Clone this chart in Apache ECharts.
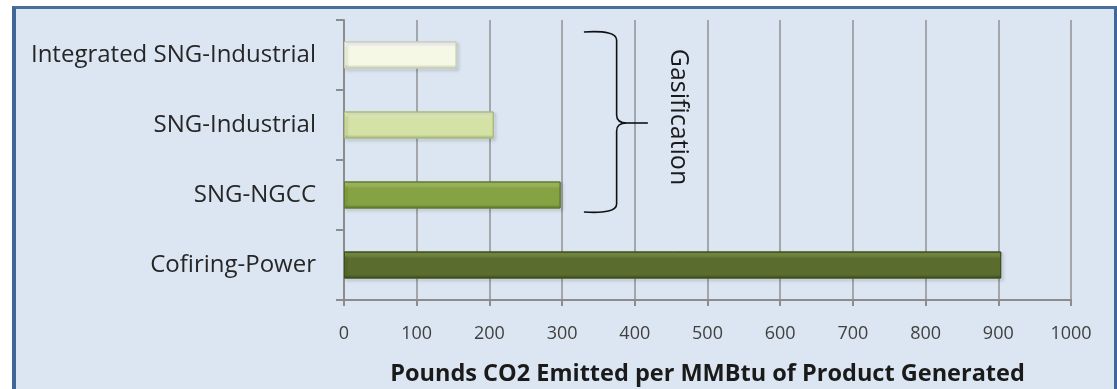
<!DOCTYPE html>
<html>
<head>
<meta charset="utf-8">
<script src="https://cdn.jsdelivr.net/npm/echarts@6/dist/echarts.min.js"></script>
<style>
  html, body { margin: 0; padding: 0; background: #ffffff; }
  #wrap { position: relative; width: 1117px; height: 389px; overflow: hidden; }
  #frame {
    position: absolute; left: 12px; top: 6px; width: 1098px; height: 400px;
    background: #dce6f2;
    border-left: 4px solid #3f6797; border-top: 3px solid #4a6f9c; border-right: 3px solid #3f6797;
  }
  #chart { position: absolute; left: 0; top: 0; width: 1117px; height: 389px; }
</style>
</head>
<body>
<div id="wrap">
  <div id="frame"></div>
  <div id="chart"></div>
</div>
<script>
// Emissions by process route (lbs CO2 per MMBtu of product)
const categories = ['Cofiring-Power', 'SNG-NGCC', 'SNG-Industrial', 'Integrated SNG-Industrial'];
const emissions = [904, 298, 206, 155];
const xTicks = [0, 100, 200, 300, 400, 500, 600, 700, 800, 900, 1000];
const axisTitle = 'Pounds CO2 Emitted per MMBtu of Product Generated';
const groupLabel = 'Gasification';
const groupMembers = ['SNG-NGCC', 'SNG-Industrial', 'Integrated SNG-Industrial'];

// bevelled bar fills: [highlight, body, shade]
const barShades = {
  'Cofiring-Power': ['#7d9146', '#5a6d2f', '#3f4d1f'],
  'SNG-NGCC': ['#a9c266', '#86a343', '#5f7a2b'],
  'SNG-Industrial': ['#e9f1c9', '#d5e2a5', '#a9b97a'],
  'Integrated SNG-Industrial': ['#ffffff', '#f5f8e4', '#c9ceb6']
};

const FONT = '"Open Sans", Lato, sans-serif';

function bevel(c) {
  return {
    type: 'linear', x: 0, y: 0, x2: 0, y2: 1,
    colorStops: [
      { offset: 0, color: c[0] },
      { offset: 0.12, color: c[0] },
      { offset: 0.25, color: c[1] },
      { offset: 0.85, color: c[1] },
      { offset: 1, color: c[2] }
    ]
  };
}

const chart = echarts.init(document.getElementById('chart'), null, { renderer: 'canvas' });

const option = {
  backgroundColor: 'transparent',
  animation: false,
  grid: { left: 344, right: 46, top: 20, bottom: 89, containLabel: false, outerBoundsMode: 'none' },
  xAxis: {
    type: 'value', min: xTicks[0], max: xTicks[xTicks.length - 1], interval: xTicks[1] - xTicks[0],
    name: axisTitle, nameLocation: 'middle', nameGap: 62,
    nameTextStyle: { fontFamily: FONT, fontWeight: 'bold', fontSize: 23.5, color: '#1a1a1a' },
    axisLine: { show: true, lineStyle: { color: '#8c8c8c', width: 2 } },
    axisTick: { show: true, length: 6, lineStyle: { color: '#8c8c8c', width: 2 } },
    axisLabel: {
      fontFamily: FONT, fontSize: 18, color: '#404040', margin: 25,
      formatter: v => String(v)
    },
    splitLine: { show: true, lineStyle: { color: '#a3a6aa', width: 2 } }
  },
  yAxis: {
    type: 'category', data: categories,
    axisLine: { show: true, lineStyle: { color: '#8c8c8c', width: 2 } },
    axisTick: { show: true, length: 8, lineStyle: { color: '#8c8c8c', width: 2 } },
    axisLabel: { fontFamily: FONT, fontSize: 24, color: '#262626', margin: 28, padding: [10, 0, 0, 0] },
    splitLine: { show: false }
  },
  series: [{
    type: 'bar',
    barWidth: 27,
    data: emissions.map((v, i) => ({
      value: v,
      itemStyle: {
        color: bevel(barShades[categories[i]]),
        borderColor: barShades[categories[i]][2],
        borderWidth: 1,
        shadowColor: 'rgba(0,0,0,0.25)', shadowBlur: 3, shadowOffsetX: 2, shadowOffsetY: 2
      }
    }))
  }]
};
chart.setOption(option);

// curly brace + label grouping the gasification routes
function drawBrace() {
  const topCat = groupMembers[groupMembers.length - 1];
  const botCat = groupMembers[0];
  const midCat = groupMembers[1];
  const yTop = chart.convertToPixel({ yAxisIndex: 0 }, topCat) - 23;
  const yBot = chart.convertToPixel({ yAxisIndex: 0 }, botCat) + 17;
  const yMid = chart.convertToPixel({ yAxisIndex: 0 }, midCat) - 2;
  const xEnd = chart.convertToPixel({ xAxisIndex: 0 }, 330);
  const xSpine = chart.convertToPixel({ xAxisIndex: 0 }, 375);
  const xTip = chart.convertToPixel({ xAxisIndex: 0 }, 418);
  const xText = chart.convertToPixel({ xAxisIndex: 0 }, 459);
  const r = 8;
  const st = { stroke: '#111111', lineWidth: 1.6, fill: null };
  const curve = (x1, y1, cx, cy, x2, y2) => ({
    type: 'bezierCurve', silent: true,
    shape: { x1: x1, y1: y1, cpx1: cx, cpy1: cy, x2: x2, y2: y2 }, style: st
  });
  const seg = (x1, y1, x2, y2) => ({
    type: 'line', silent: true, shape: { x1: x1, y1: y1, x2: x2, y2: y2 }, style: st
  });
  chart.setOption({
    graphic: [
      curve(xEnd, yTop, xSpine, yTop - 2, xSpine, yTop + r),
      seg(xSpine, yTop + r, xSpine, yMid - r),
      curve(xSpine, yMid - r, xSpine, yMid, xSpine + 10, yMid),
      seg(xSpine + 10, yMid, xTip, yMid),
      curve(xSpine + 10, yMid, xSpine, yMid, xSpine, yMid + r),
      seg(xSpine, yMid + r, xSpine, yBot - r),
      curve(xSpine, yBot - r, xSpine, yBot + 2, xEnd, yBot),
      {
        type: 'text', silent: true,
        x: xText, y: (yTop + yBot) / 2 - 5, rotation: -Math.PI / 2,
        style: {
          text: groupLabel, fontFamily: FONT, fontSize: 25, fill: '#1a1a1a',
          align: 'center', verticalAlign: 'middle'
        }
      }
    ]
  });
}
drawBrace();
</script>
</body>
</html>
